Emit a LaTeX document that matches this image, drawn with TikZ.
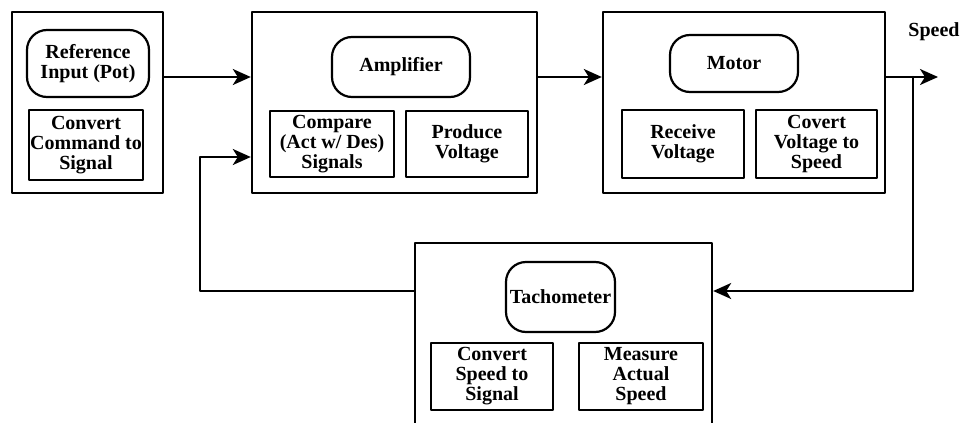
\documentclass[tikz,border=0pt]{standalone}
\usepackage{fontspec}
\setmainfont{Liberation Serif}
\usetikzlibrary{arrows.meta}

\begin{document}
\begin{tikzpicture}[x=0.5pt,y=-0.5pt,line cap=round,line join=round,
  >={Stealth[length=9pt,width=8pt,inset=2.5pt]},
  unit/.style={draw,line width=1.2pt,inner sep=0pt},
  task/.style={draw,line width=1.1pt,align=center,inner sep=0pt,font=\bfseries\fontsize{10}{10}\selectfont},
  part/.style={task,rounded corners=10pt},
  link/.style={line width=1.1pt}]
\clip (0,0) rectangle (964,423);
% blocks
\node[unit,minimum width=75.5pt,minimum height=90.5pt] (ref) at (87.5,102.5) {};
\node[part,minimum width=61pt,minimum height=33.5pt] (refin) at (88,63.5) {Reference\\Input (Pot)};
\node[task,minimum width=57pt,minimum height=35pt] (refconv) at (86,145) {Convert\\Command to\\Signal};
\node[unit,minimum width=142.5pt,minimum height=90.5pt] (amp) at (394.5,102.5) {};
\node[part,minimum width=69pt,minimum height=30pt] (amppart) at (401,67) {Amplifier};
\node[task,minimum width=62pt,minimum height=33pt] (compare) at (332,144) {Compare\\(Act w/ Des)\\Signals};
\node[task,minimum width=61pt,minimum height=33pt] (produce) at (467,144) {Produce\\Voltage};
\node[unit,minimum width=141pt,minimum height=90.5pt] (motor) at (744,102.5) {};
\node[part,minimum width=64pt,minimum height=28.5pt] (motorpart) at (734,63.5) {Motor};
\node[task,minimum width=61pt,minimum height=34pt] (receive) at (683,144) {Receive\\Voltage};
\node[task,minimum width=60.5pt,minimum height=34pt] (covert) at (816.5,144) {Covert\\Voltage to\\Speed};
\node[unit,minimum width=148.5pt,minimum height=96pt] (tacho) at (563.5,339) {};
\node[part,minimum width=54.5pt,minimum height=35pt] (tachopart) at (560.5,297) {Tachometer};
\node[task,minimum width=61pt,minimum height=33.5pt] (convspeed) at (492,376.5) {Convert\\Speed to\\Signal};
\node[task,minimum width=62pt,minimum height=33.5pt] (measure) at (641,376.5) {Measure\\Actual\\Speed};
% connectors
\coordinate (fwd) at (0,77);
\coordinate (back) at (0,291);
\coordinate (fbin) at (200,157);
\coordinate (tap) at (913,77);
\coordinate (out) at (938,77);
\node[font=\bfseries\fontsize{10}{10}\selectfont] (speed) at (934,32) {Speed};
\draw[link,->] (ref.east |- fwd) -- (amp.west |- fwd);
\draw[link,->] (amp.east |- fwd) -- (motor.west |- fwd);
\draw[link,->] (motor.east |- fwd) -- (out);
\draw[link,->] (tap) |- (tacho.east |- back);
\draw[link,->] (tacho.west |- back) -| (fbin) -- (amp.west |- fbin);
\end{tikzpicture}
\end{document}
